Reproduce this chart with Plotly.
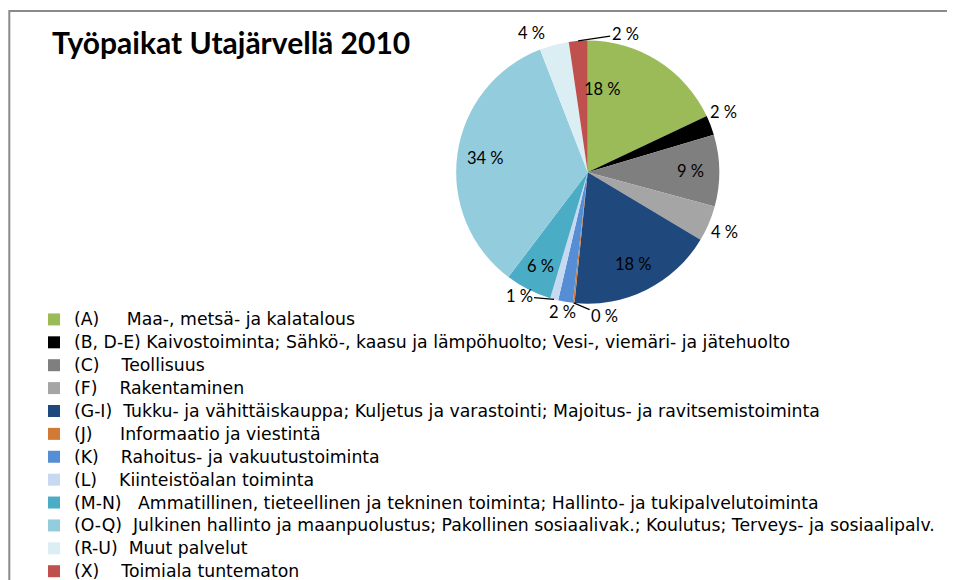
import math
import plotly.graph_objects as go

NBSP = "\u00a0"

codes = ["(A)", "(B, D-E)", "(C)", "(F)", "(G-I)", "(J)", "(K)", "(L)", "(M-N)", "(O-Q)", "(R-U)", "(X)"]
names = [
    "Maa-, metsä- ja kalatalous",
    "Kaivostoiminta; Sähkö-, kaasu ja lämpöhuolto; Vesi-, viemäri- ja jätehuolto",
    "Teollisuus",
    "Rakentaminen",
    "Tukku- ja vähittäiskauppa; Kuljetus ja varastointi; Majoitus- ja ravitsemistoiminta",
    "Informaatio ja viestintä",
    "Rahoitus- ja vakuutustoiminta",
    "Kiinteistöalan toiminta",
    "Ammatillinen, tieteellinen ja tekninen toiminta; Hallinto- ja tukipalvelutoiminta",
    "Julkinen hallinto ja maanpuolustus; Pakollinen sosiaalivak.; Koulutus; Terveys- ja sosiaalipalv.",
    "Muut palvelut",
    "Toimiala tuntematon",
]
shares = [18.0, 2.4, 8.8, 4.4, 18.0, 0.2, 1.8, 1.0, 5.7, 33.8, 3.6, 2.3]

# --- styling ---
colors = ["#9BBB59", "#000000", "#7F7F7F", "#A5A5A5", "#1F497D", "#D07A36",
          "#558ED5", "#C6D9F1", "#4BACC6", "#93CDDD", "#DBEEF4", "#C0504D"]
gaps = [5, 1, 4, 4, 2, 5, 4, 4, 3, 2, 2, 4]
# label placement: radius fraction, pixel nudge (dx, dy), leader line flag
label_r = [0.78, 1.0, 0.78, 1.0, 0.78, 1.0, 1.0, 1.0, 0.80, 0.78, 1.0, 1.0]
label_nudge = [(-40, 4), (12, -13), (0, 0), (15, 8), (0, 0), (31, 13),
               (-3, 10), (-35, -3), (0, 0), (0, 0), (-23, -12), (47, -7)]
leader = [False, False, False, False, False, True, False, True, False, False, False, True]

W, H = 955, 580
OFF = 8  # page body margin
CX, CY, R = 587.7, 172.7, 132  # pie centre / radius in page pixels
FONT = "Lato"
LEG_FONT = "DejaVu Sans"


def fx(X):
    return (X - OFF) / W


def fy(Y):
    return 1 - (Y - OFF) / H


total = sum(shares)
texts = [f"{round(v / total * 100)} %" for v in shares]
labels = ['<span style="font-size:17.3px">' + c + NBSP * g + n + "</span>"
          for c, g, n in zip(codes, gaps, names)]

fig = go.Figure(go.Pie(
    labels=labels,
    values=shares,
    textinfo="none",
    sort=False,
    direction="clockwise",
    rotation=0,
    marker=dict(colors=colors, line=dict(width=0)),
    hoverinfo="label+percent",
    domain=dict(x=[fx(CX - R), fx(CX + R)], y=[fy(CY + R), fy(CY - R)]),
))

annotations = []
cum = 0.0
for v, t, rf, (dx, dy), ld in zip(shares, texts, label_r, label_nudge, leader):
    mid = (cum + v / 2) / total * 2 * math.pi
    cum += v
    px_ = CX + rf * R * math.sin(mid)
    py_ = CY - rf * R * math.cos(mid)
    if ld:
        annotations.append(dict(
            x=fx(px_), y=fy(py_), xref="paper", yref="paper", text=t,
            showarrow=True, arrowhead=0, arrowwidth=1.2, arrowcolor="black",
            ax=dx, ay=dy, axref="pixel", ayref="pixel", standoff=0,
            font=dict(family=FONT, size=16.5, color="black")))
    else:
        annotations.append(dict(
            x=fx(px_ + dx), y=fy(py_ + dy), xref="paper", yref="paper", text=t,
            showarrow=False, xanchor="center", yanchor="middle",
            font=dict(family=FONT, size=16.5, color="black")))

fig.update_layout(
    width=W, height=H,
    margin=dict(l=0, r=0, t=0, b=0),
    paper_bgcolor="white",
    font=dict(family=FONT, size=15, color="black"),
    title=dict(text="<b>Työpaikat Utajärvellä 2010</b>", x=fx(52), xanchor="left",
               y=fy(43), yanchor="middle",
               font=dict(family=FONT, size=30, color="black")),
    legend=dict(x=fx(34), xanchor="left", y=fy(304), yanchor="top",
                font=dict(family=LEG_FONT, size=15.3, color="black"),
                traceorder="normal", bgcolor="rgba(0,0,0,0)"),
    annotations=annotations,
    shapes=[dict(type="rect", xref="paper", yref="paper",
                 x0=fx(9.3), x1=1.05, y0=-0.05, y1=fy(11),
                 line=dict(color="#8A8A8A", width=2))],
)

fig.write_html("out.html")
